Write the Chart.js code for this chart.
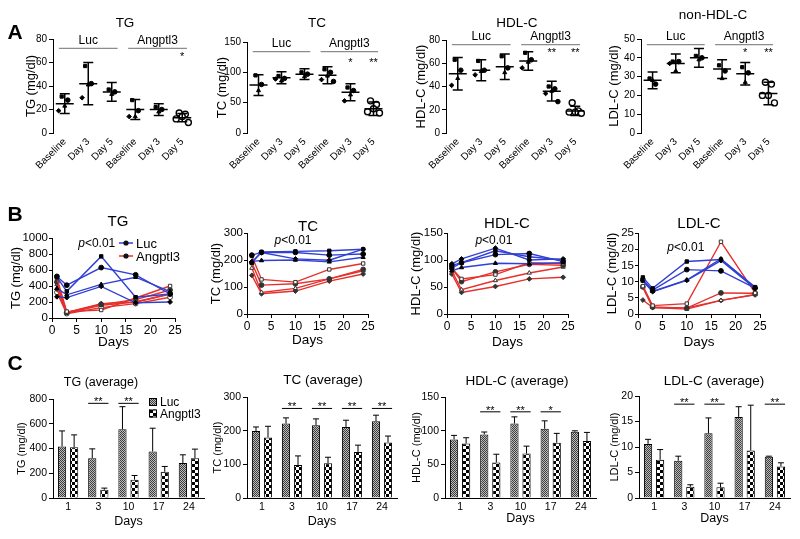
<!DOCTYPE html>
<html>
<head>
<meta charset="utf-8">
<script src="https://cdn.jsdelivr.net/npm/chart.js@4.4.1/dist/chart.umd.min.js"></script>
<style>
  body { margin: 0; background: #fff; }
  #fig { position: relative; width: 800px; height: 539px; overflow: hidden; font-family: Arial, "Liberation Sans", sans-serif; }
  #fig canvas { position: absolute; }
  .t { position: absolute; transform: translate(-50%, -50%); white-space: nowrap; color: #000; line-height: 1; }
</style>
</head>
<body>
<div id="fig">
  <canvas id="a1"></canvas><canvas id="a2"></canvas><canvas id="a3"></canvas><canvas id="a4"></canvas>
  <canvas id="b1"></canvas><canvas id="b2"></canvas><canvas id="b3"></canvas><canvas id="b4"></canvas>
  <canvas id="c1"></canvas><canvas id="c2"></canvas><canvas id="c3"></canvas><canvas id="c4"></canvas>
</div>
<script>
var FONT = 'Arial, "Liberation Sans", sans-serif';
Chart.defaults.font.family = FONT;
Chart.defaults.color = '#000';

// ---------- A: individual values, mean +- SD
var groupsA = ['Baseline', 'Day 3', 'Day 5', 'Baseline', 'Day 3', 'Day 5'];
var groupNames = ['Luc', 'Angptl3'];

var tgPts = [[31, 28, 23, 19], [57, 42, 41, 30], [37, 35, 33], [28, 19, 14, 14], [22, 20, 18], [17, 16, 14, 12, 9]];
var tgMean = [25, 42, 35, 20, 20, 13];
var tgSd = [8.5, 18, 8, 8.5, 5, 3.5];
var tgStars = ['', '', '', '', '', '*'];

var tcPts = [[95, 80, 70], [94, 90, 86, 89], [100, 97, 93], [105, 100, 94, 88, 85], [75, 70, 63, 53], [53, 47, 40, 35, 33]];
var tcMean = [79, 91, 97, 95, 67, 40];
var tcSd = [17, 10, 9, 14, 14, 11];
var tcStars = ['', '', '', '', '*', '**'];

var hdlPts = [[63, 54, 47, 41], [62, 54, 53, 50], [66, 56, 52], [69, 63, 61, 56], [40, 38, 36, 34, 27], [26, 19, 18, 18, 17]];
var hdlMean = [51, 54, 57, 62, 36, 19];
var hdlSd = [14, 9, 11, 8, 8.5, 4];
var hdlStars = ['', '', '', '', '**', '**'];

var nonPts = [[29, 26, 28], [38, 38, 33, 37], [41, 40, 39], [36, 33, 29], [35, 32, 27], [27, 26, 20, 20, 16]];
var nonMean = [28, 37, 40, 34, 31.5, 21];
var nonSd = [4.5, 5, 5, 5, 6, 6];
var nonStars = ['', '', '', '', '*', '**'];

// ---------- B: time course, one line per mouse
var days = [1, 3, 10, 17, 24];
var tgLuc = [[510, 333, 770, 260, 300], [520, 410, 630, 540, 300], [370, 290, 420, 510, 330], [265, 255, 395, 190, 200]];
var tgAng = [[500, 80, 100, 250, 400], [450, 70, 170, 230, 350], [420, 60, 160, 200, 300], [360, 70, 180, 200, 300], [320, 55, 130, 180, 260]];
var tcLuc = [[190, 230, 232, 234, 240], [218, 228, 228, 218, 222], [195, 198, 200, 193, 210], [193, 228, 204, 199, 240]];
var tcAng = [[215, 128, 118, 165, 187], [190, 107, 112, 130, 165], [170, 80, 95, 130, 160], [143, 75, 85, 122, 148]];
var hdlLuc = [[85, 95, 117, 106, 100], [90, 95, 110, 112, 97], [80, 86, 94, 93, 95], [93, 102, 122, 100, 102]];
var hdlAng = [[85, 65, 73, 95, 93], [85, 60, 78, 92, 90], [80, 45, 62, 76, 87], [74, 40, 51, 65, 68]];
var ldlLuc = [[11.3, 7.9, 16.2, 16.8, 8.3], [10.6, 7.4, 13.7, 13.3, 8], [10.2, 7, 10.5, 17, 8.2], [10.3, 6.9, 10.4, 16.5, 7.9]];
var ldlAng = [[8.6, 2.6, 3.2, 22.3, 6.5], [8.4, 2.2, 1.8, 6.5, 6.4], [8.2, 2, 1.5, 4.2, 6], [4.3, 2, 1.9, 4.2, 5.9]];

// ---------- C: averages (mean + SD)
var dayCats = ['1', '3', '10', '17', '24'];
var tgLucAvg = [416, 322, 556, 376, 282], tgLucSd = [126, 75, 182, 188, 67];
var tgAngAvg = [410, 67, 148, 212, 322], tgAngSd = [100, 13, 34, 43, 73];
var tgAvgStars = ['', '**', '**', '', ''];
var tcLucAvg = [199, 221, 216, 211, 228], tcLucSd = [12, 17, 19, 20, 18];
var tcAngAvg = [180, 98, 103, 137, 165], tcAngSd = [33, 27, 18, 20, 19];
var tcAvgStars = ['', '**', '**', '**', '**'];
var hdlLucAvg = [87, 94.4, 110.7, 102.8, 98.4], hdlLucSd = [6, 3.6, 9.8, 11.8, 1.4];
var hdlAngAvg = [81, 52.6, 66, 82, 84.6], hdlAngSd = [8.5, 12.4, 11, 14, 12.8];
var hdlAvgStars = ['', '**', '**', '*', ''];
var ldlLucAvg = [10.6, 7.3, 12.7, 15.9, 8.1], ldlLucSd = [0.9, 0.9, 3, 2, 0.1];
var ldlAngAvg = [7.5, 2.2, 2.1, 9.3, 6.2], ldlAngSd = [2, 0.4, 0.8, 8.9, 0.7];
var ldlAvgStars = ['', '**', '**', '', '**'];

var blue = '#3040d4', red = '#e5302b';
var jit = [-0.13, 0.13, 0, -0.26, 0.26];
var shapes = ['rect', 'circle', 'triangle', 'rectRot', 'circle'];

function place(id, box) {
  var c = document.getElementById(id);
  c.width = box[2]; c.height = box[3];
  c.style.left = box[0] + 'px'; c.style.top = box[1] + 'px';
  return c;
}

function txt(s, x, y, size, bold) {
  var d = document.createElement('div');
  d.className = 't';
  d.textContent = s;
  d.style.left = x + 'px'; d.style.top = y + 'px';
  d.style.fontSize = size + 'px';
  if (bold) d.style.fontWeight = 'bold';
  document.getElementById('fig').appendChild(d);
}

function pad(box, area) {
  return {left: 0, bottom: 0, top: area[1] - box[1], right: box[0] + box[2] - area[2]};
}

function yScale(max, step, title, w, tpad, fs, tfs) {
  return {
    min: 0, max: max,
    ticks: {stepSize: step, autoSkip: false, font: {size: fs}, color: '#000', padding: 2,
      callback: function(v) { return String(v); }},
    grid: {drawOnChartArea: false, tickLength: 4, color: '#000'},
    border: {color: '#000', width: 1},
    title: {display: true, text: title, font: {size: tfs}, color: '#000', padding: {top: tpad, bottom: 0}},
    afterFit: function(s) { s.width = w; }
  };
}

function makePattern(size, draw) {
  var c = document.createElement('canvas');
  c.width = size; c.height = size;
  var g = c.getContext('2d');
  draw(g);
  return g.createPattern(c, 'repeat');
}
var patLuc = makePattern(2, function(g) {
  g.fillStyle = '#bdbdbd'; g.fillRect(0, 0, 2, 2);
  g.fillStyle = '#3c3c3c'; g.fillRect(0, 0, 1, 1); g.fillRect(1, 1, 1, 1);
});
var patAng = makePattern(6, function(g) {
  g.fillStyle = '#fff'; g.fillRect(0, 0, 6, 6);
  g.fillStyle = '#000'; g.fillRect(0, 0, 3, 3); g.fillRect(3, 3, 3, 3);
});

// mean/SD bars, group brackets and stars for the scatter panels
var statsPlugin = {
  id: 'stats',
  afterDatasetsDraw: function(chart, args, o) {
    var ctx = chart.ctx, xs = chart.scales.x, ys = chart.scales.y;
    ctx.save();
    ctx.strokeStyle = '#000';
    ctx.lineWidth = 1.5;
    for (var i = 0; i < o.mean.length; i++) {
      var x = xs.getPixelForValue(i), m = ys.getPixelForValue(o.mean[i]);
      var lo = ys.getPixelForValue(o.mean[i] - o.sd[i]), hi = ys.getPixelForValue(o.mean[i] + o.sd[i]);
      ctx.beginPath();
      ctx.moveTo(x - 9, m); ctx.lineTo(x + 9, m);
      ctx.moveTo(x, lo); ctx.lineTo(x, hi);
      ctx.moveTo(x - 5, lo); ctx.lineTo(x + 5, lo);
      ctx.moveTo(x - 5, hi); ctx.lineTo(x + 5, hi);
      ctx.stroke();
    }
    var by = ys.getPixelForValue(o.brkY);
    ctx.strokeStyle = '#8c8c8c';
    ctx.lineWidth = 1.2;
    ctx.font = '12px ' + FONT;
    ctx.fillStyle = '#000';
    ctx.textAlign = 'center';
    ctx.textBaseline = 'bottom';
    [[-0.25, 2.25], [2.7, 5.2]].forEach(function(g, k) {
      var x0 = xs.getPixelForValue(g[0]), x1 = xs.getPixelForValue(g[1]);
      ctx.beginPath(); ctx.moveTo(x0, by); ctx.lineTo(x1, by); ctx.stroke();
      ctx.fillText(groupNames[k], (x0 + x1) / 2, by - 2);
    });
    ctx.font = '11px ' + FONT;
    ctx.textBaseline = 'middle';
    o.stars.forEach(function(s, i) {
      if (s) ctx.fillText(s, xs.getPixelForValue(i), ys.getPixelForValue(o.starY) + 3);
    });
    ctx.restore();
  }
};

// p value text and line legend for the time-course panels
var pPlugin = {
  id: 'pval',
  afterDraw: function(chart, args, o) {
    var ctx = chart.ctx, a = chart.chartArea;
    var x = chart.scales.x.getPixelForValue(o.at[0]), y = chart.scales.y.getPixelForValue(o.at[1]);
    ctx.save();
    ctx.font = 'italic 12px ' + FONT;
    var w1 = ctx.measureText('p').width;
    ctx.font = '12px ' + FONT;
    var w2 = ctx.measureText('<0.01').width;
    var x0 = x - (w1 + w2) / 2;
    ctx.textBaseline = 'middle'; ctx.textAlign = 'left'; ctx.fillStyle = '#000';
    ctx.font = 'italic 12px ' + FONT; ctx.fillText('p', x0, y);
    ctx.font = '12px ' + FONT; ctx.fillText('<0.01', x0 + w1, y);
    if (o.legend) {
      var cols = [blue, red];
      groupNames.forEach(function(n, k) {
        var lx = a.left + o.legend[0], ly = a.top + o.legend[1] + k * 13;
        ctx.strokeStyle = cols[k]; ctx.lineWidth = 1.5;
        ctx.beginPath(); ctx.moveTo(lx - 7, ly); ctx.lineTo(lx + 7, ly); ctx.stroke();
        ctx.fillStyle = '#111';
        ctx.beginPath(); ctx.arc(lx, ly, 2.6, 0, Math.PI * 2); ctx.fill();
        ctx.fillStyle = '#000';
        ctx.font = '13px ' + FONT;
        ctx.fillText(n, lx + 10, ly + 1);
      });
    }
    ctx.restore();
  }
};

// upper SD whiskers, significance marks and pattern legend for the bar panels
var barPlugin = {
  id: 'barx',
  afterDatasetsDraw: function(chart, args, o) {
    var ctx = chart.ctx, ys = chart.scales.y, a = chart.chartArea;
    ctx.save();
    ctx.strokeStyle = '#000'; ctx.lineWidth = 1;
    chart.data.datasets.forEach(function(ds, di) {
      chart.getDatasetMeta(di).data.forEach(function(bar, j) {
        var top = ys.getPixelForValue(ds.data[j] + ds.sd[j]);
        ctx.beginPath();
        ctx.moveTo(bar.x, bar.y); ctx.lineTo(bar.x, top);
        ctx.moveTo(bar.x - 3, top); ctx.lineTo(bar.x + 3, top);
        ctx.stroke();
      });
    });
    var l = chart.getDatasetMeta(0).data, r = chart.getDatasetMeta(1).data;
    var sy = ys.getPixelForValue(o.starY);
    ctx.fillStyle = '#000'; ctx.textAlign = 'center'; ctx.textBaseline = 'middle';
    ctx.font = '11px ' + FONT;
    o.stars.forEach(function(s, j) {
      if (!s) return;
      var x0 = l[j].x - l[j].width / 2, x1 = r[j].x + r[j].width / 2;
      ctx.beginPath(); ctx.moveTo(x0, sy); ctx.lineTo(x1, sy); ctx.stroke();
      ctx.fillText(s, (x0 + x1) / 2, sy - 1);
    });
    if (o.legend) {
      var pats = [patLuc, patAng];
      ctx.textAlign = 'left';
      ctx.font = '12px ' + FONT;
      groupNames.forEach(function(n, k) {
        var lx = a.left + o.legend[0], ly = a.top + o.legend[1] + k * 11.5;
        ctx.fillStyle = pats[k]; ctx.fillRect(lx, ly - 4, 8, 8);
        ctx.strokeRect(lx + 0.5, ly - 3.5, 7, 7);
        ctx.fillStyle = '#000';
        ctx.fillText(n, lx + 11, ly + 1);
      });
    }
    ctx.restore();
  }
};

function panelA(o) {
  var c = place(o.id, o.box);
  var sets = [];
  for (var j = 0; j < 5; j++) {
    var d = [];
    for (var i = 0; i < 5; i++) if (o.pts[i][j] != null) d.push({x: i + jit[j], y: o.pts[i][j]});
    sets.push({data: d, pointStyle: shapes[j], pointRadius: 2.3, pointBackgroundColor: '#000', pointBorderColor: '#000', pointBorderWidth: 1});
  }
  sets.push({data: o.pts[5].map(function(v, j) { return {x: 5 + jit[j], y: v}; }),
    pointStyle: 'circle', pointRadius: 3, pointBackgroundColor: '#fff', pointBorderColor: '#000', pointBorderWidth: 1.4});
  var xh = o.box[1] + o.box[3] - o.area[3];
  new Chart(c, {
    type: 'scatter',
    data: {datasets: sets},
    options: {
      responsive: false, animation: false, clip: false,
      layout: {padding: pad(o.box, o.area)},
      plugins: {legend: {display: false}, tooltip: {enabled: false},
        stats: {mean: o.mean, sd: o.sd, stars: o.stars, brkY: o.brkY, starY: o.starY}},
      scales: {
        x: {type: 'linear', min: -0.5, max: 5.5,
          afterBuildTicks: function(s) { s.ticks = groupsA.map(function(g, i) { return {value: i}; }); },
          ticks: {autoSkip: false, minRotation: 45, maxRotation: 45, font: {size: 10}, color: '#000', padding: 3,
            callback: function(v) { return groupsA[v]; }},
          grid: {display: false, drawTicks: false}, border: {display: false},
          afterFit: function(s) { s.height = xh; }},
        y: yScale(o.max, o.step, o.ytitle, o.area[0] - o.box[0], o.tpad, 10, 13)
      }
    },
    plugins: [statsPlugin]
  });
}

function panelB(o) {
  var c = place(o.id, o.box);
  var sets = [];
  o.luc.forEach(function(arr, k) {
    sets.push({data: days.map(function(d, i) { return {x: d, y: arr[i]}; }), showLine: true,
      borderColor: blue, borderWidth: 1.4, pointStyle: shapes[k], pointRadius: 2.4,
      pointBackgroundColor: '#000', pointBorderColor: '#000', pointBorderWidth: 1});
  });
  o.ang.forEach(function(arr, k) {
    sets.push({data: days.map(function(d, i) { return {x: d, y: arr[i]}; }), showLine: true,
      borderColor: red, borderWidth: 1.4, pointStyle: shapes[k], pointRadius: 2.4,
      pointBackgroundColor: k % 2 ? '#333' : '#fff', pointBorderColor: '#333', pointBorderWidth: 1});
  });
  var xh = o.box[1] + o.box[3] - o.area[3];
  var ys = yScale(o.max, o.step, o.ytitle, o.area[0] - o.box[0], o.tpad, 11.5, 13);
  ys.grid.tickLength = 3;
  ys.ticks.padding = 1;
  new Chart(c, {
    type: 'scatter',
    data: {datasets: sets},
    options: {
      responsive: false, animation: false, clip: false,
      layout: {padding: pad(o.box, o.area)},
      plugins: {legend: {display: false}, tooltip: {enabled: false}, pval: {at: o.pAt, legend: o.legend}},
      scales: {
        x: {type: 'linear', min: 0, max: 25,
          ticks: {stepSize: 5, autoSkip: false, font: {size: 12}, color: '#000', padding: 1},
          grid: {drawOnChartArea: false, tickLength: 4, color: '#000'},
          border: {color: '#000', width: 1},
          title: {display: true, text: 'Days', font: {size: 13.5}, color: '#000', padding: {top: 0, bottom: o.dpad}},
          afterFit: function(s) { s.height = xh; }},
        y: ys
      }
    },
    plugins: [pPlugin]
  });
}

function panelC(o) {
  var c = place(o.id, o.box);
  var xh = o.box[1] + o.box[3] - o.area[3];
  new Chart(c, {
    type: 'bar',
    data: {labels: dayCats, datasets: [
      {label: groupNames[0], data: o.luc, sd: o.lucSd, backgroundColor: patLuc, borderColor: '#000', borderWidth: 1},
      {label: groupNames[1], data: o.ang, sd: o.angSd, backgroundColor: patAng, borderColor: '#000', borderWidth: 1}
    ]},
    options: {
      responsive: false, animation: false,
      categoryPercentage: 0.8, barPercentage: 0.68,
      layout: {padding: pad(o.box, o.area)},
      plugins: {legend: {display: false}, tooltip: {enabled: false},
        barx: {stars: o.stars, starY: o.starY, legend: o.legend}},
      scales: {
        x: {ticks: {font: {size: 10.5}, color: '#000', padding: 3},
          grid: {display: false, drawTicks: false},
          border: {color: '#000', width: 1},
          title: {display: true, text: 'Days', font: {size: 12.5}, color: '#000', padding: {top: 0, bottom: o.dpad}},
          afterFit: function(s) { s.height = xh; }},
        y: yScale(o.max, o.step, o.ytitle, o.area[0] - o.box[0], o.tpad, 10.5, 11)
      }
    },
    plugins: [barPlugin]
  });
}

panelA({id: 'a1', box: [0, 0, 200, 185], area: [53, 39, 194, 133], pts: tgPts, mean: tgMean, sd: tgSd, stars: tgStars,
  max: 80, step: 20, ytitle: 'TG (mg/dl)', tpad: 24, brkY: 72, starY: 67});
panelA({id: 'a2', box: [200, 0, 200, 185], area: [247, 42, 385, 133], pts: tcPts, mean: tcMean, sd: tcSd, stars: tcStars,
  max: 150, step: 50, ytitle: 'TC (mg/dl)', tpad: 15, brkY: 134, starY: 120});
panelA({id: 'a3', box: [400, 0, 200, 185], area: [446, 40, 587, 133], pts: hdlPts, mean: hdlMean, sd: hdlSd, stars: hdlStars,
  max: 80, step: 20, ytitle: 'HDL-C (mg/dl)', tpad: 14, brkY: 76, starY: 71});
panelA({id: 'a4', box: [600, 0, 200, 185], area: [641, 39, 780, 133], pts: nonPts, mean: nonMean, sd: nonSd, stars: nonStars,
  max: 50, step: 10, ytitle: 'LDL-C (mg/dl)', tpad: 7, brkY: 47, starY: 44});

panelB({id: 'b1', box: [0, 185, 200, 170], area: [52, 238, 175, 318], luc: tgLuc, ang: tgAng,
  max: 1000, step: 200, ytitle: 'TG (mg/dl)', tpad: 9, dpad: 5, pAt: [9.1, 935], legend: [74, 5]});
panelB({id: 'b2', box: [200, 185, 200, 170], area: [247, 233, 368, 314], luc: tcLuc, ang: tcAng,
  max: 300, step: 100, ytitle: 'TC (mg/dl)', tpad: 9, dpad: 7, pAt: [9.5, 270]});
panelB({id: 'b3', box: [400, 185, 200, 170], area: [447, 233, 568, 314], luc: hdlLuc, ang: hdlAng,
  max: 150, step: 50, ytitle: 'HDL-C (mg/dl)', tpad: 9, dpad: 5, pAt: [9.7, 135]});
panelB({id: 'b4', box: [600, 185, 200, 170], area: [638, 233, 760, 314], luc: ldlLuc, ang: ldlAng,
  max: 25, step: 5, ytitle: 'LDL-C (mg/dl)', tpad: 5, dpad: 5, pAt: [9.8, 20.4]});

panelC({id: 'c1', box: [0, 350, 210, 189], area: [53, 399, 204, 498], luc: tgLucAvg, lucSd: tgLucSd, ang: tgAngAvg, angSd: tgAngSd,
  stars: tgAvgStars, starY: 765, max: 800, step: 200, ytitle: 'TG (mg/dl)', tpad: 15, dpad: 9.5, legend: [96, 3]});
panelC({id: 'c2', box: [200, 350, 200, 189], area: [247, 397, 397, 498], luc: tcLucAvg, lucSd: tcLucSd, ang: tcAngAvg, angSd: tcAngSd,
  stars: tcAvgStars, starY: 266, max: 300, step: 100, ytitle: 'TC (mg/dl)', tpad: 11, dpad: 9.5});
panelC({id: 'c3', box: [400, 350, 200, 189], area: [445, 397, 596, 498], luc: hdlLucAvg, lucSd: hdlLucSd, ang: hdlAngAvg, angSd: hdlAngSd,
  stars: hdlAvgStars, starY: 128, max: 150, step: 50, ytitle: 'HDL-C (mg/dl)', tpad: 10, dpad: 12.5});
panelC({id: 'c4', box: [600, 350, 200, 189], area: [639, 396, 790, 498], luc: ldlLucAvg, lucSd: ldlLucSd, ang: ldlAngAvg, angSd: ldlAngSd,
  stars: ldlAvgStars, starY: 18.4, max: 20, step: 5, ytitle: 'LDL-C (mg/dl)', tpad: 8, dpad: 12.5});

// panel letters and titles
txt('A', 15, 31, 21, true);
txt('B', 15, 213, 21, true);
txt('C', 15, 362, 21, true);
txt('TG', 125, 23, 13.5); txt('TC', 317, 23, 13.5); txt('HDL-C', 517, 23, 13.5); txt('non-HDL-C', 713, 15, 13.5);
txt('TG', 118, 220, 15); txt('TC', 308, 225, 15); txt('HDL-C', 507, 222, 15); txt('LDL-C', 699, 222, 15);
txt('TG (average)', 101, 382, 12.5); txt('TC (average)', 323, 380, 13.5);
txt('HDL-C (average)', 517, 381, 13.5); txt('LDL-C (average)', 714, 381, 13.5);
</script>
</body>
</html>
